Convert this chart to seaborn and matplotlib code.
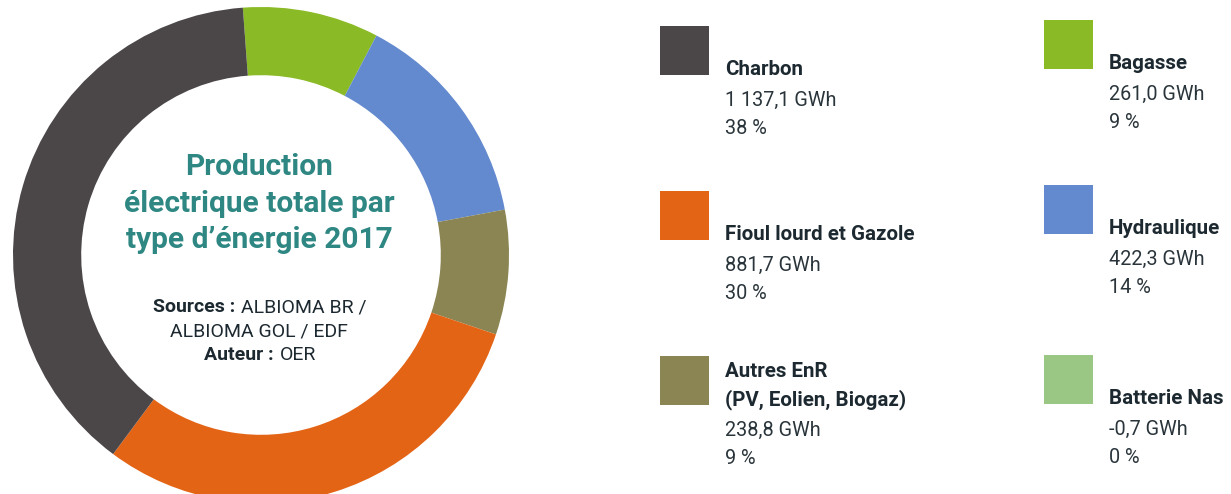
import matplotlib
matplotlib.use("Agg")
import matplotlib.pyplot as plt
import seaborn as sns
from matplotlib.patches import Rectangle

# Electricity production by energy type, 2017 (GWh)
categories = ["Bagasse", "Hydraulique", "Autres EnR\n(PV, Eolien, Biogaz)",
              "Batterie Nas", "Fioul lourd et Gazole", "Charbon"]
production_gwh = [261.0, 422.3, 238.8, -0.7, 881.7, 1137.1]
share_pct = [9, 14, 9, 0, 30, 38]
hex_colors = ["#8aba25", "#6389cf", "#8a8552", "#9bc785", "#e46416", "#4b4748"]

title_lines = ["Production", "électrique totale par", "type d\u2019énergie 2017"]
credit_lines = [("Sources :", "ALBIOMA BR /"), ("", "ALBIOMA GOL / EDF"), ("Auteur :", "OER")]

sns.set_theme(style="white")
plt.rcParams["font.family"] = ["Roboto", "DejaVu Sans"]
palette = sns.color_palette(hex_colors)

W, H = 1231, 494
fig = plt.figure(figsize=(W / 100, H / 100), dpi=100)
fig.patch.set_facecolor("white")

# Donut ring, laid out in pixel units
cx, cy, R = 261, 255, 248
ax = fig.add_axes([(cx - R) / W, (H - cy - R) / H, 2 * R / W, 2 * R / H])
sizes = [max(v, 0) for v in production_gwh]
ax.pie(sizes, colors=palette, startangle=94.2, counterclock=False, radius=1.0,
       wedgeprops=dict(width=0.275, linewidth=0))
ax.set_xlim(-1, 1)
ax.set_ylim(-1, 1)
ax.set_axis_off()

# Overlay for text and legend in pixel coordinates
ov = fig.add_axes([0, 0, 1, 1], zorder=5)
ov.set_xlim(0, W)
ov.set_ylim(H, 0)
ov.set_axis_off()
ov.patch.set_alpha(0)

teal = "#2e8782"
dark = "#1d2930"
soft = "#2a353b"

for i, line in enumerate(title_lines):
    ov.text(259, 175 + 36.5 * i, line, ha="center", va="baseline", fontsize=21.5,
            fontweight="bold", fontstretch="normal", color=teal)

renderer = fig.canvas.get_renderer()
for i, (bold, reg) in enumerate(credit_lines):
    y = 312 + 24 * i
    if bold:
        tb = ov.text(0, y, bold, ha="left", va="baseline", fontsize=14, fontweight="bold",
                     fontstretch="normal", color=dark)
        tr = ov.text(0, y, reg, ha="left", va="baseline", fontsize=14, color=dark,
                     fontstretch="normal")
        wb = tb.get_window_extent(renderer).width
        wr = tr.get_window_extent(renderer).width
        gap = 6
        x0 = 260 - (wb + gap + wr) / 2
        tb.set_x(x0)
        tr.set_x(x0 + wb + gap)
    else:
        ov.text(259, y, reg, ha="center", va="baseline", fontsize=14, color=dark,
                fontstretch="normal")

# Legend: swatch + bold name + value + share
legend_pos = {
    "Charbon": (660, 26), "Fioul lourd et Gazole": (660, 191),
    "Autres EnR\n(PV, Eolien, Biogaz)": (660, 356),
    "Bagasse": (1044, 20), "Hydraulique": (1044, 185), "Batterie Nas": (1044, 355),
}
sq = 49


def fr_number(v):
    return f"{v:,.1f}".replace(",", " ").replace(".", ",")


for name, val, pct, col in zip(categories, production_gwh, share_pct, palette):
    x, top = legend_pos[name]
    ov.add_patch(Rectangle((x, top), sq, sq, facecolor=col, edgecolor="none"))
    base = top + sq
    lines = name.split("\n")
    for j, ln in enumerate(reversed(lines)):
        ov.text(x + 65, base - 28 * j, ln, ha="left", va="baseline", fontsize=14.8,
                fontweight="bold", fontstretch="condensed", color=dark)
    ov.text(x + 65, base + 31, f"{fr_number(val)} GWh", ha="left", va="baseline",
            fontsize=14.3, fontweight="normal", fontstretch="condensed", color=soft)
    ov.text(x + 65, base + 59, f"{pct} %", ha="left", va="baseline",
            fontsize=14.3, fontweight="normal", fontstretch="condensed", color=soft)

fig.savefig("out.png", dpi=100, facecolor="white")
